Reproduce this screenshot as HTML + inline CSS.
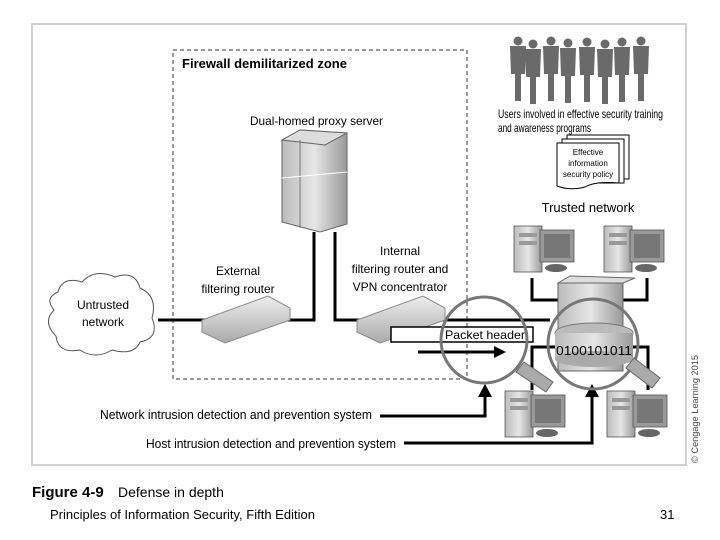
<!DOCTYPE html>
<html><head><style>
html,body{margin:0;padding:0;background:#fff;}
svg{display:block;font-family:"Liberation Sans",sans-serif;}
</style></head><body>
<svg width="720" height="540" viewBox="0 0 720 540" xmlns="http://www.w3.org/2000/svg">
<defs>
<linearGradient id="g1" x1="0" x2="1"><stop offset="0" stop-color="#bbb"/><stop offset="0.5" stop-color="#e6e6e6"/><stop offset="1" stop-color="#999"/></linearGradient>
<linearGradient id="g2" x1="0" y1="0" x2="0" y2="1"><stop offset="0" stop-color="#eee"/><stop offset="1" stop-color="#aaa"/></linearGradient>
<g id="pc">
<rect x="0" y="8" width="28" height="46" fill="url(#g1)" stroke="#555" stroke-width="0.8"/>
<rect x="5" y="15" width="18" height="4" fill="#999"/><rect x="5" y="23" width="18" height="4" fill="#999"/>
<rect x="26" y="12" width="34" height="32" fill="#999" stroke="#555" stroke-width="0.8"/>
<rect x="30" y="16" width="26" height="24" fill="#777"/>
<ellipse cx="42" cy="50" rx="11" ry="4" fill="#666"/>
</g>
<g id="person">
<circle cx="0" cy="0" r="4.5"/>
<path d="M-8,5 H8 L7,33 H3 L3,60 H-3 L-3,33 H-7 Z"/>
</g>
</defs>
<rect x="32" y="24" width="654" height="441" fill="#fff" stroke="#d0d0d0" stroke-width="2"/>
<rect x="173" y="50" width="294" height="329" fill="none" stroke="#333" stroke-width="1" stroke-dasharray="4,3"/>
<text x="182" y="68" font-size="13" font-weight="bold" textLength="165" lengthAdjust="spacingAndGlyphs">Firewall demilitarized zone</text>
<text x="250" y="125" font-size="12" textLength="133" lengthAdjust="spacingAndGlyphs">Dual-homed proxy server</text>
<!-- proxy server -->
<polygon points="282,140 300,130 347,133 347,224 320,232 282,222" fill="url(#g1)" stroke="#666"/>
<polygon points="282,140 300,130 347,133 325,145" fill="#ddd" stroke="#666"/>
<line x1="300" y1="140" x2="300" y2="228" stroke="#777"/>
<line x1="282" y1="178" x2="347" y2="172" stroke="#fff"/>
<!-- connectors -->
<g stroke="#000" stroke-width="3" fill="none">
<polyline points="158,320 314,320 314,232"/>
<polyline points="335,232 335,320 550,320"/>
<polyline points="532,278 532,300 558,300"/>
<polyline points="647,278 647,300 623,300"/>
<polyline points="532,390 532,347 558,347"/>
<polyline points="648,390 648,347 623,347"/>
<polyline points="380,416 485,416 485,395"/>
<polyline points="404,443 592,443 592,395"/>
<line x1="418" y1="352" x2="498" y2="352"/>
</g>
<polygon points="478,397 485,384 492,397" fill="#000"/>
<polygon points="585,397 592,384 599,397" fill="#000"/>
<polygon points="494,346 506,352 494,358" fill="#000"/>
<text x="238" y="275" font-size="12" text-anchor="middle">External</text>
<text x="238" y="293" font-size="12" text-anchor="middle">filtering router</text>
<text x="400" y="255" font-size="12" text-anchor="middle">Internal</text>
<text x="400" y="273" font-size="12" text-anchor="middle">filtering router and</text>
<text x="400" y="291" font-size="12" text-anchor="middle">VPN concentrator</text>
<!-- routers -->
<polygon points="202,320 268,296 290,308 290,320 225,343 202,332" fill="url(#g2)" stroke="#888"/>
<polygon points="357,320 423,296 445,308 445,320 380,343 357,332" fill="url(#g2)" stroke="#888"/>
<!-- cloud -->
<path d="M58,292 Q62,276 82,282 Q95,268 115,277 Q135,270 140,288 Q158,296 152,318 Q160,338 140,342 Q134,356 112,350 Q95,360 80,350 Q58,354 56,336 Q42,322 54,310 Q44,298 58,292 Z" fill="#fff" stroke="#555"/>
<text x="103" y="309" font-size="12" text-anchor="middle">Untrusted</text>
<text x="103" y="326" font-size="12" text-anchor="middle">network</text>
<!-- packet header -->
<rect x="391" y="327" width="142" height="15" fill="#fff" stroke="#000" stroke-width="1.5"/>
<text x="445" y="339" font-size="12" textLength="80" lengthAdjust="spacingAndGlyphs">Packet header</text>
<!-- trusted server -->
<rect x="558" y="283" width="65" height="88" fill="url(#g1)" stroke="#666"/>
<polygon points="558,283 570,276 635,278 623,283" fill="#ddd" stroke="#666"/>
<!-- magnifiers -->
<circle cx="484" cy="340" r="43" fill="none" stroke="#777" stroke-width="3"/>
<polygon points="516,372 524,362 553,382 546,392" fill="#aaa" stroke="#666"/>
<ellipse cx="594" cy="333" rx="39" ry="10" fill="#bbb" stroke="#777"/>
<rect x="555" y="333" width="78" height="26" fill="url(#g1)"/>
<ellipse cx="594" cy="359" rx="39" ry="8" fill="#aaa"/>
<text x="556" y="355" font-size="13" textLength="76" lengthAdjust="spacingAndGlyphs">0100101011</text>
<circle cx="593" cy="344" r="45" fill="none" stroke="#777" stroke-width="3"/>
<polygon points="626,368 634,358 660,378 652,388" fill="#aaa" stroke="#666"/>
<!-- computers -->
<use href="#pc" x="514" y="218"/><use href="#pc" x="604" y="218"/>
<use href="#pc" x="505" y="383"/><use href="#pc" x="607" y="383"/>
<!-- people -->
<g fill="#6a6a6a">
<use href="#person" x="518" y="41"/><use href="#person" x="533" y="44"/>
<use href="#person" x="551" y="41"/><use href="#person" x="568" y="43"/>
<use href="#person" x="587" y="42"/><use href="#person" x="605" y="44"/>
<use href="#person" x="622" y="42"/><use href="#person" x="641" y="41"/>
</g>
<text x="498" y="118" font-size="12" textLength="165" lengthAdjust="spacingAndGlyphs">Users involved in effective security training</text>
<text x="498" y="132" font-size="12" textLength="93" lengthAdjust="spacingAndGlyphs">and awareness programs</text>
<!-- policy -->
<rect x="567" y="135" width="62" height="44" fill="#fff" stroke="#000"/>
<rect x="562" y="139" width="62" height="44" fill="#fff" stroke="#000"/>
<path d="M557,143 H619 V183 Q595,181 585,187 Q570,191 557,186 Z" fill="#fff" stroke="#000"/>
<text x="588" y="155" font-size="8" text-anchor="middle">Effective</text>
<text x="588" y="166" font-size="8" text-anchor="middle">information</text>
<text x="588" y="177" font-size="8" text-anchor="middle">security policy</text>
<text x="588" y="212" font-size="13" text-anchor="middle">Trusted network</text>
<text x="100" y="419" font-size="13" textLength="272" lengthAdjust="spacingAndGlyphs">Network intrusion detection and prevention system</text>
<text x="146" y="448" font-size="13" textLength="250" lengthAdjust="spacingAndGlyphs">Host intrusion detection and prevention system</text>
<text x="698" y="463" font-size="9" fill="#444" transform="rotate(-90 698 463)" textLength="108" lengthAdjust="spacingAndGlyphs">© Cengage Learning 2015</text>
<text x="32" y="497" font-size="15" font-weight="bold">Figure 4-9</text>
<text x="118" y="497" font-size="14">Defense in depth</text>
<text x="50" y="519" font-size="13">Principles of Information Security, Fifth Edition</text>
<text x="660" y="519" font-size="13">31</text>
</svg>
</body></html>
